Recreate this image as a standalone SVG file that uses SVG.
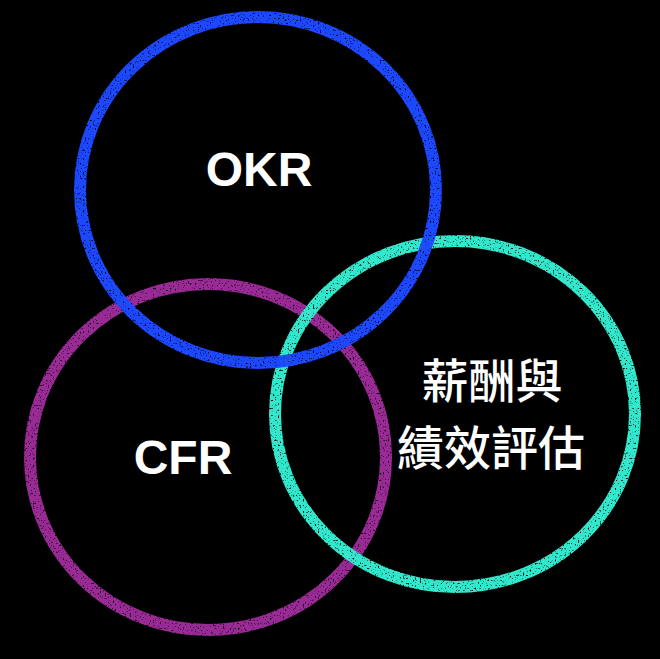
<svg xmlns="http://www.w3.org/2000/svg" width="660" height="659" viewBox="0 0 660 659">
<defs>
<filter id="chalk" x="-10%" y="-10%" width="120%" height="120%">
<feTurbulence type="fractalNoise" baseFrequency="1.0" numOctaves="2" seed="7" result="n"/>
<feDisplacementMap in="SourceGraphic" in2="n" scale="7" xChannelSelector="R" yChannelSelector="G" result="d"/>
<feTurbulence type="fractalNoise" baseFrequency="0.6" numOctaves="1" seed="3" result="m"/>
<feColorMatrix in="m" type="matrix" values="0 0 0 0 0  0 0 0 0 0  0 0 0 0 0  0 0 0 -7 5.2" result="mask"/>
<feComposite in="d" in2="mask" operator="in"/>
</filter>
</defs>
<style>
.ring{fill:none;stroke-width:12;filter:url(#chalk)}
.lat{font-family:"Liberation Sans",Arial,sans-serif;font-weight:bold;font-size:48px;fill:#fff;text-anchor:middle}
.cjk{font-family:"Noto Sans CJK TC","Noto Sans CJK SC",sans-serif;font-weight:500;font-size:47px;fill:#fff;text-anchor:middle}
</style>
<rect width="660" height="659" fill="#000"/>
<g id="connectors"></g>
<g id="cfr">
<ellipse class="ring" cx="208" cy="457" rx="178" ry="173" stroke="#9a2a96"/>
<text class="lat" x="183" y="474">CFR</text>
</g>
<g id="pay">
<ellipse class="ring" cx="455" cy="414" rx="180" ry="173" stroke="#30e8cc"/>
<text class="cjk" x="492" y="398">薪酬與</text>
<text class="cjk" x="491" y="465">績效評估</text>
</g>
<g id="okr">
<ellipse class="ring" cx="258" cy="190" rx="178" ry="173" stroke="#1c48ff"/>
<text class="lat" x="259" y="186">OKR</text>
</g>
</svg>
